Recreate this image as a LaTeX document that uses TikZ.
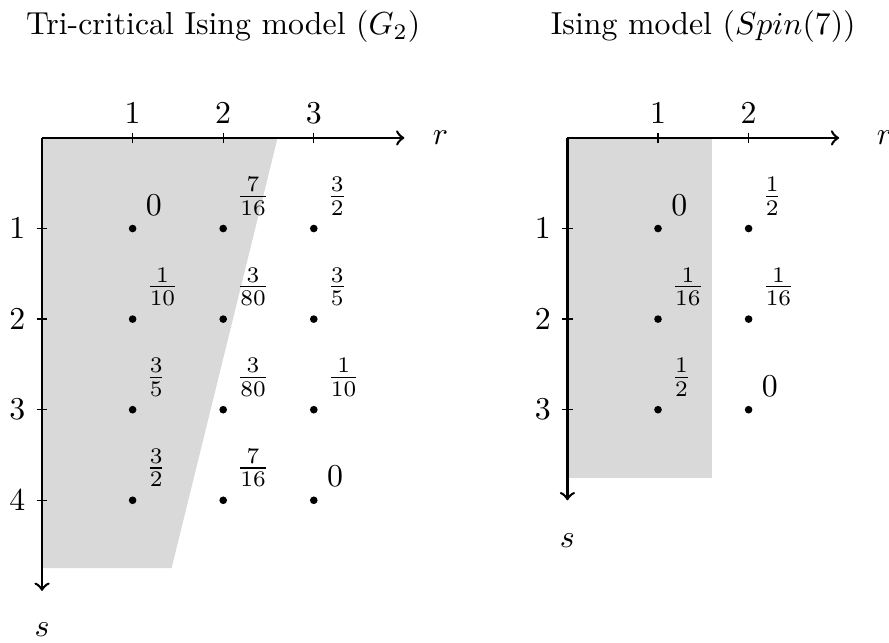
\documentclass[tikz,border=0pt]{standalone}
\usepackage{tikz}
\usetikzlibrary{positioning}

\begin{document}
\begin{tikzpicture}[
  axis/.style={->, thick},
  tickmark/.style={thin},
  region/.style={fill=black!15, draw=none},
  dot/.style={circle, fill=black, inner sep=0pt, minimum size=2.4pt},
  weight/.style={inner sep=3pt},
  ticklabel/.style={inner sep=2.5pt}
]
  \useasboundingbox (-0.464,-5.574) rectangle (9.35,1.523);

  % Tri-critical Ising model
  \node (tctitle) at (2,1.23) {Tri-critical Ising model ($G_2$)};
  \coordinate (tcorigin) at (0,0);
  \coordinate (tcrend) at (4,0);
  \coordinate (tcsend) at (0,-5);
  \fill[region] (tcorigin) -- (2.6,0) -- (1.43,-4.75) -- (0,-4.75) -- cycle;
  \draw[axis] (tcorigin) -- (tcrend);
  \draw[axis] (tcorigin) -- (tcsend);
  \node (tcr) at (4.4,0) {$r$};
  \node (tcs) at (0,-5.43) {$s$};
  \foreach \r in {1,2,3}
    \draw[tickmark] (\r,0.06) node[ticklabel, above] (tcrtick\r) {$\r$} -- (\r,-0.06);
  \foreach \s in {1,2,3,4}
    \draw[tickmark] (-0.06,-\s) node[left] (tcstick\s) {$\s$} -- (0.06,-\s);

  \node[dot, label={[weight]above right:$0$}] (tcdot11) at (1,-1) {};
  \node[dot, label={[weight]above right:$\frac{7}{16}$}] (tcdot21) at (2,-1) {};
  \node[dot, label={[weight]above right:$\frac{3}{2}$}] (tcdot31) at (3,-1) {};
  \node[dot, label={[weight]above right:$\frac{1}{10}$}] (tcdot12) at (1,-2) {};
  \node[dot, label={[weight]above right:$\frac{3}{80}$}] (tcdot22) at (2,-2) {};
  \node[dot, label={[weight]above right:$\frac{3}{5}$}] (tcdot32) at (3,-2) {};
  \node[dot, label={[weight]above right:$\frac{3}{5}$}] (tcdot13) at (1,-3) {};
  \node[dot, label={[weight]above right:$\frac{3}{80}$}] (tcdot23) at (2,-3) {};
  \node[dot, label={[weight]above right:$\frac{1}{10}$}] (tcdot33) at (3,-3) {};
  \node[dot, label={[weight]above right:$\frac{3}{2}$}] (tcdot14) at (1,-4) {};
  \node[dot, label={[weight]above right:$\frac{7}{16}$}] (tcdot24) at (2,-4) {};
  \node[dot, label={[weight]above right:$0$}] (tcdot34) at (3,-4) {};

  % Ising model
  \begin{scope}[xshift=5.8cm]
    \node (istitle) at (1.5,1.23) {Ising model ($Spin(7)$)};
    \coordinate (isorigin) at (0,0);
    \coordinate (isrend) at (3,0);
    \coordinate (issend) at (0,-4);
    \fill[region] (isorigin) rectangle (1.6,-3.75);
    \draw[axis] (isorigin) -- (isrend);
    \draw[axis] (isorigin) -- (issend);
    \node (isr) at (3.5,0) {$r$};
    \node (iss) at (0,-4.44) {$s$};
    \foreach \r in {1,2}
      \draw[tickmark] (\r,0.06) node[ticklabel, above] (isrtick\r) {$\r$} -- (\r,-0.06);
    \foreach \s in {1,2,3}
      \draw[tickmark] (-0.06,-\s) node[left] (isstick\s) {$\s$} -- (0.06,-\s);

    \node[dot, label={[weight]above right:$0$}] (isdot11) at (1,-1) {};
    \node[dot, label={[weight]above right:$\frac{1}{2}$}] (isdot21) at (2,-1) {};
    \node[dot, label={[weight]above right:$\frac{1}{16}$}] (isdot12) at (1,-2) {};
    \node[dot, label={[weight]above right:$\frac{1}{16}$}] (isdot22) at (2,-2) {};
    \node[dot, label={[weight]above right:$\frac{1}{2}$}] (isdot13) at (1,-3) {};
    \node[dot, label={[weight]above right:$0$}] (isdot23) at (2,-3) {};
  \end{scope}
\end{tikzpicture}
\end{document}
